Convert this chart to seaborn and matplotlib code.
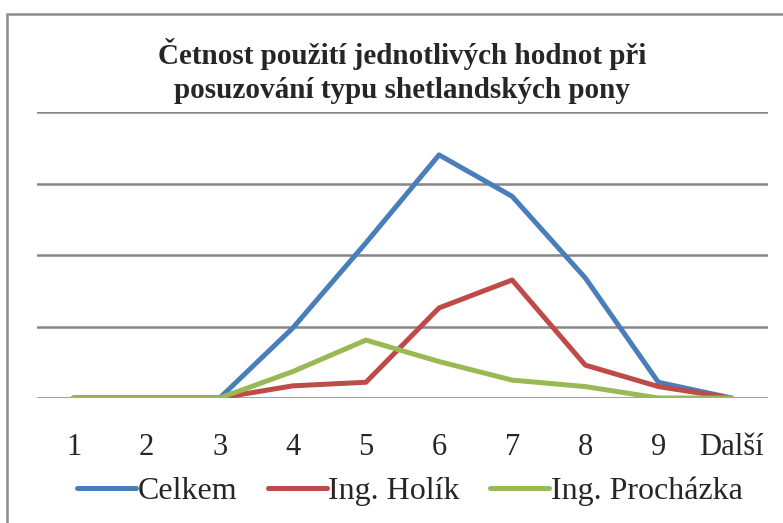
import pandas as pd
import seaborn as sns
import matplotlib.pyplot as plt
from matplotlib.patches import Rectangle

# hodnoty
kategorie = ["1", "2", "3", "4", "5", "6", "7", "8", "9", "Další"]
celkem = [0, 0, 0, 9.8, 21.7, 34, 28.2, 16.8, 2.2, 0]
holik = [0, 0, 0, 1.7, 2.2, 12.6, 16.5, 4.6, 1.6, 0]
prochazka = [0, 0, 0, 3.7, 8.1, 5.1, 2.5, 1.6, 0, 0]
serie = ["Celkem", "Ing. Holík", "Ing. Procházka"]
barvy = ["#4A7EBB", "#BE4B48", "#98B954"]

df = pd.DataFrame({
    "kategorie": kategorie * 3,
    "hodnota": celkem + holik + prochazka,
    "serie": [s for s in serie for _ in kategorie],
})

sns.set_style("white")
plt.rcParams['font.family'] = ['Liberation Serif', 'DejaVu Serif']

fig = plt.figure(figsize=(7.83, 5.23), dpi=100)
ax = fig.add_axes([37 / 783, 1 - 398 / 523, (768 - 37) / 783, (398 - 112) / 523])

sns.lineplot(data=df, x="kategorie", y="hodnota", hue="serie", palette=barvy,
             linewidth=3.6, ax=ax, sort=False)

ax.set_xlim(-0.5, len(kategorie) - 0.5)
ax.set_ylim(0, 40)
ax.set_yticks([0, 10, 20, 30, 40])
ax.set_yticklabels([])
ax.grid(axis="y", color="#878787", linewidth=1.8)
ax.grid(axis="x", visible=False)
ax.set_axisbelow(True)
for s in ax.spines.values():
    s.set_visible(False)
ax.tick_params(axis="x", length=0, pad=25, labelsize=22)
ax.tick_params(axis="y", length=0)
ax.set_xlabel("")
ax.set_ylabel("")

ax.legend(loc="upper center", bbox_to_anchor=(0.51, -0.23), ncol=3, frameon=False,
          fontsize=23, handlelength=1.85, handletextpad=0.05, columnspacing=0.95,
          borderaxespad=0)

fig.text(0.513, 1 - 71 / 523, "Četnost použití jednotlivých hodnot při\nposuzování typu shetlandských pony",
         ha="center", va="center", fontsize=21, fontweight="bold", linespacing=1.3)

fig.patches.append(Rectangle((7 / 783, -0.1), 1.2, 1 - 14 / 523 + 0.1, transform=fig.transFigure,
                             fill=False, edgecolor="#8C8C8C", linewidth=1.8))

fig.savefig("out.png", dpi=100)
